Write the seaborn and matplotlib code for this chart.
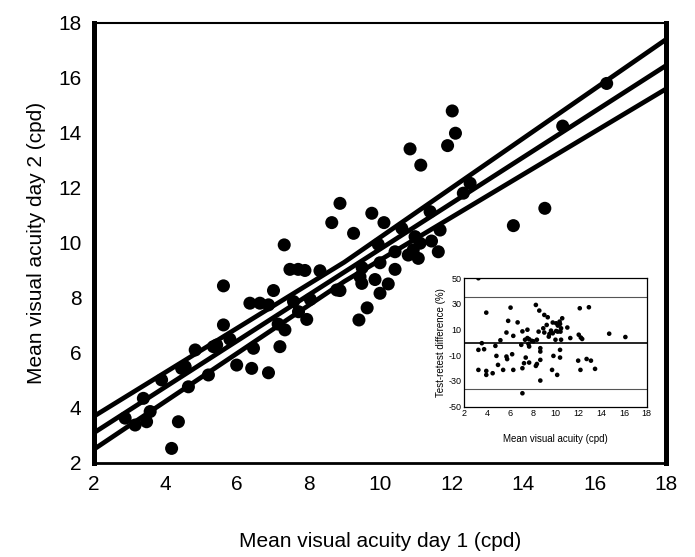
import pandas as pd
import matplotlib
matplotlib.use("Agg")
import matplotlib.pyplot as plt
import seaborn as sns

# main scatter: mean acuity day 1 vs day 2 (cpd)
day1 = [2.87, 3.15, 3.47, 3.57, 3.38, 3.89, 4.36, 4.17, 4.45, 4.55, 4.64, 4.83,
        5.20, 5.34, 5.43, 5.62, 5.62, 5.80, 5.99, 6.36, 6.64, 6.88, 6.46, 6.41,
        6.88, 7.02, 7.20, 7.34, 7.15, 7.32, 7.48, 7.71, 7.90, 8.32, 7.58, 7.72,
        7.95, 8.05, 8.79, 12.02, 12.11, 11.89, 10.84, 11.14, 8.88, 9.77, 10.11,
        8.65, 9.26, 11.68, 12.52, 12.33, 11.40, 10.61, 10.98, 11.12, 10.93, 11.44,
        11.63, 10.79, 11.07, 10.42, 10.42, 10.00, 9.44, 9.49, 9.86, 10.23, 10.00,
        8.88, 14.61, 13.73, 9.41, 9.64, 16.34, 15.11, 9.50, 9.95]
day2 = [3.63, 3.38, 3.50, 3.87, 4.35, 5.02, 3.50, 2.53, 5.44, 5.50, 4.77, 6.11,
        5.20, 6.23, 6.29, 7.02, 8.44, 6.50, 5.56, 7.81, 7.81, 7.75, 6.17, 5.44,
        5.28, 8.27, 6.23, 6.84, 7.05, 9.93, 9.04, 9.04, 9.00, 8.99, 7.87, 7.50,
        7.22, 7.95, 8.29, 14.80, 13.99, 13.54, 13.42, 12.83, 11.44, 11.08, 10.74,
        10.74, 10.35, 10.47, 12.17, 11.81, 11.14, 10.53, 10.23, 9.99, 9.75, 10.07,
        9.68, 9.56, 9.44, 9.68, 9.04, 9.28, 8.77, 8.53, 8.67, 8.51, 8.17,
        8.27, 11.26, 10.63, 7.20, 7.64, 15.80, 14.25, 9.10, 9.95]

# regression line and its bounds
fit_x = [2, 18]
fit_mid = [3.10, 16.45]
band_x = [2, 9, 18]
band_hi = [3.70, 9.30, 17.40]
band_lo = [2.50, 8.60, 15.60]

# inset: Bland-Altman style differences
ba_mean = [3.24, 3.93, 6.06, 5.85, 5.70, 6.30, 5.17, 4.73, 3.54, 3.24, 3.74, 4.82,
           4.96, 5.70, 5.76, 6.20, 3.24, 3.93, 3.93, 4.49, 5.41, 6.30, 6.68, 7.10,
           7.54, 7.54, 7.33, 7.69, 7.93, 7.00, 7.63, 7.69, 7.39, 7.24, 7.10, 7.69,
           7.10, 8.28, 8.58, 9.02, 9.32, 8.52, 8.93, 9.23, 9.02, 8.67, 8.67, 8.67,
           8.37, 8.28, 8.67, 9.76, 10.06, 10.21, 10.36, 10.59, 10.40, 10.49, 10.06,
           9.61, 9.47, 9.76, 10.44, 10.00, 10.49, 10.40, 10.40, 9.82, 9.70, 10.15,
           11.04, 11.30, 12.13, 12.93, 12.04, 12.22, 12.34, 11.99, 12.19, 12.73,
           13.11, 13.47, 14.71, 16.13, 8.37, 8.07, 10.20, 9.41]
ba_diff = [50.0, 23.2, 27.1, 16.8, 7.7, 5.1, 1.7, -2.7, -0.6, -5.8, -5.3, -10.5,
           -17.5, -11.0, -13.0, -9.2, -21.4, -22.2, -25.3, -24.0, -21.4, -21.4, 15.6, 8.6,
           9.9, 3.4, 2.1, 2.5, 1.2, -1.9, -1.2, -3.2, -11.8, -16.2, -20.1, -15.7,
           -39.6, 29.2, 24.8, 21.4, 19.6, 8.4, 11.0, 13.6, 7.7, -4.5, -7.1, -13.6,
           -16.8, -18.3, -29.7, 15.5, 14.9, 13.1, 16.2, 18.8, 14.4, 11.0, 8.9,
           9.2, 6.6, 7.1, 8.4, 2.1, 2.1, -5.8, -11.8, -10.5, -21.4, -25.3,
           11.6, 3.4, 26.6, 27.4, 6.0, 3.8, 2.7, -14.2, -21.4, -12.9,
           -14.2, -20.6, 6.8, 4.2, 2.1, 0.9, 8.4, 4.5]
ba_levels = [35.0, -0.5, -36.0]

sns.set_style("white")
plt.rcParams['font.family'] = ['Liberation Sans', 'DejaVu Sans']
plt.rcParams['axes.unicode_minus'] = False
plt.rcParams['text.color'] = 'black'
plt.rcParams['axes.labelcolor'] = 'black'
plt.rcParams['xtick.color'] = 'black'
plt.rcParams['ytick.color'] = 'black'

fig = plt.figure(figsize=(6.95, 5.57), dpi=100)
ax = fig.add_axes([0.1353, 0.1688, 0.823, 0.790])

sns.lineplot(x=band_x, y=band_hi, color='black', lw=3.4, ax=ax)
sns.lineplot(x=fit_x, y=fit_mid, color='black', lw=3.4, ax=ax)
sns.lineplot(x=band_x, y=band_lo, color='black', lw=3.4, ax=ax)
sns.scatterplot(x=day1, y=day2, color='black', s=88, edgecolor='none', ax=ax, zorder=3)

ax.set_xlim(2, 18)
ax.set_ylim(2, 18)
ax.set_xticks(range(2, 19, 2))
ax.set_yticks(range(2, 19, 2))
ax.tick_params(labelsize=15, length=3, direction='in', width=1, pad=9)
ax.set_xlabel("Mean visual acuity day 1 (cpd)", fontsize=15, labelpad=27)
ax.set_ylabel("Mean visual acuity day 2 (cpd)", fontsize=15, labelpad=9)
for side, w in [('left', 3.6), ('right', 3.6), ('top', 1.5), ('bottom', 2.0)]:
    ax.spines[side].set_visible(True)
    ax.spines[side].set_color('black')
    ax.spines[side].set_linewidth(w)

# inset
ins = fig.add_axes([0.668, 0.270, 0.2625, 0.2305])
ins.set_facecolor('white')
for y, w, c in zip(ba_levels, [0.8, 1.2, 0.8], ['#555555', 'black', '#555555']):
    ins.axhline(y, color=c, lw=w)
sns.scatterplot(x=ba_mean, y=ba_diff, color='black', s=11, edgecolor='none', ax=ins, zorder=3)
ins.set_xlim(2, 18)
ins.set_ylim(-50, 50)
ins.set_xticks(range(2, 19, 2))
ins.set_yticks([50, 30, 10, -10, -30, -50])
ins.tick_params(labelsize=6.5, length=2, direction='in', width=0.6, pad=2)
ins.set_xlabel("Mean visual acuity (cpd)", fontsize=7, labelpad=11)
ins.set_ylabel("Test-retest difference (%)", fontsize=7, labelpad=2)
for s in ins.spines.values():
    s.set_visible(True)
    s.set_color('black')
    s.set_linewidth(0.9)

fig.savefig("out.png", dpi=100)
